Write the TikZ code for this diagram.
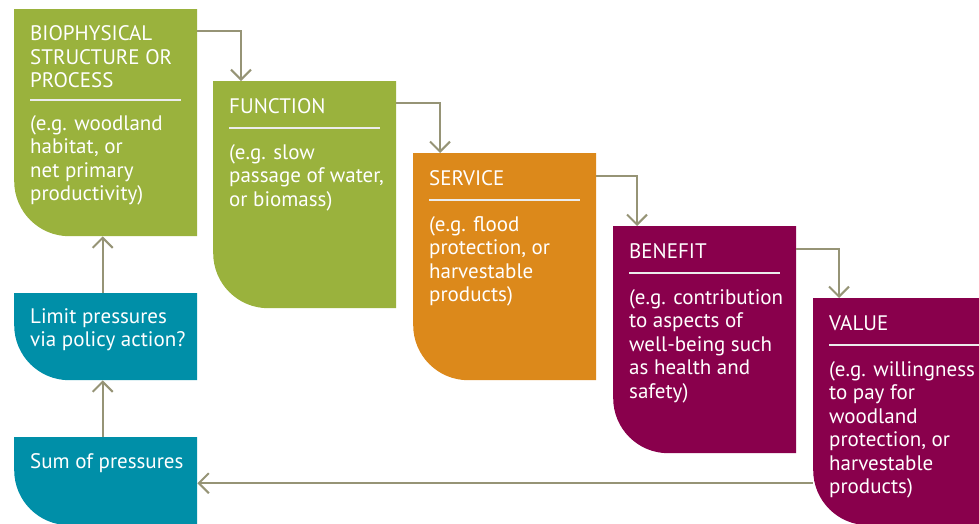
\documentclass[tikz,border=0pt]{standalone}
\usepackage{fontspec}
\setmainfont{PT Sans}
\usepackage{xcolor}
\usetikzlibrary{arrows.meta}

\definecolor{stageGreen}{RGB}{154,178,61}
\definecolor{stageOrange}{RGB}{220,137,27}
\definecolor{stagePurple}{RGB}{137,0,76}
\definecolor{stageTeal}{RGB}{0,143,168}
\definecolor{flowGrey}{RGB}{150,148,118}

\begin{document}
\begin{tikzpicture}[x=1pt, y=1pt,
    stage/.style={rectangle, anchor=north west, inner sep=0pt, minimum width=183pt,
      minimum height=227pt,
      path picture={\fill[#1] (path picture bounding box.north west)
        -- (path picture bounding box.north east) -- (path picture bounding box.south east)
        -- ([xshift=55pt]path picture bounding box.south west)
        arc[start angle=270, end angle=180, radius=55pt] -- cycle;}},
    txt/.style={anchor=north west, align=left, inner sep=0pt, text=white,
      font=\fontsize{21}{23.5}\selectfont, execute at begin node={\strut}},
    divider/.style={white!85!gray, line width=1.2pt},
    flow/.style={flowGrey, line width=2pt, -{Straight Barb[length=10pt, width=20pt, line width=2pt]}}]
  \clip (0,0) rectangle (979,-523);

  % the chain of boxes
  \node[stage=stageGreen] (bio) at (14,-9) {};
  \node[stage=stageGreen] (func) at (213,-81) {};
  \node[stage=stageOrange] (serv) at (413,-153) {};
  \node[stage=stagePurple] (ben) at (613,-226) {};
  \node[stage=stagePurple] (val) at (813,-298) {};
  \node[stage=stageTeal, minimum height=87pt] (limit) at (14,-293) {};
  \node[stage=stageTeal, minimum height=88pt] (sum) at (14,-437) {};

  % texts (first baseline about 32pt below the top edge)
  \node[txt] (bio-t) at ([shift={(16,-16.5)}]bio.north west) {BIOPHYSICAL\\STRUCTURE OR\\PROCESS};
  \node[txt] (bio-e) at ([shift={(16,-106)}]bio.north west) {(e.g. woodland\\habitat, or\\net primary\\productivity)};
  \node[txt] (func-t) at ([shift={(16,-16)}]func.north west) {FUNCTION};
  \node[txt] (func-e) at ([shift={(16,-63)}]func.north west) {(e.g. slow\\passage of water,\\or biomass)};
  \node[txt] (serv-t) at ([shift={(16,-16)}]serv.north west) {SERVICE};
  \node[txt] (serv-e) at ([shift={(16,-63)}]serv.north west) {(e.g. flood\\protection, or\\harvestable\\products)};
  \node[txt] (ben-t) at ([shift={(16,-16)}]ben.north west) {BENEFIT};
  \node[txt] (ben-e) at ([shift={(16,-63)}]ben.north west) {(e.g. contribution\\to aspects of\\well-being such\\as health and\\safety)};
  \node[txt] (val-t) at ([shift={(16,-16)}]val.north west) {VALUE};
  \node[txt] (val-e) at ([shift={(16,-63)}]val.north west) {(e.g. willingness\\to pay for\\woodland\\protection, or\\harvestable\\products)};
  \node[txt] (limit-t) at ([shift={(16,-15)}]limit.north west) {Limit pressures\\via policy action?};
  \node[txt] (sum-t) at ([shift={(16,-15)}]sum.north west) {Sum of pressures};

  % rules under the headings
  \draw[divider] ([shift={(16,-91)}]bio.north west) -- ++(151,0);
  \foreach \n in {func,serv,ben,val}
    \draw[divider] ([shift={(16,-47)}]\n.north west) -- ++(151,0);

  % connectors
  \draw[flow] ([yshift=-22pt]bio.north east) -| ([xshift=28pt]func.north west);
  \draw[flow] ([yshift=-22pt]func.north east) -| ([xshift=27pt]serv.north west);
  \draw[flow] ([yshift=-23pt]serv.north east) -| ([xshift=24pt]ben.north west);
  \draw[flow] ([yshift=-23pt]ben.north east) -| ([xshift=26pt]val.north west);
  \draw[flow] ([yshift=-2pt]val.west |- sum.east) -- ([yshift=-2pt]sum.east);
  \draw[flow] ([xshift=-3pt]sum.north) -- ([xshift=-3pt]limit.south);
  \draw[flow] ([xshift=-3pt]limit.north) -- ([xshift=-3pt]bio.south);
\end{tikzpicture}
\end{document}
